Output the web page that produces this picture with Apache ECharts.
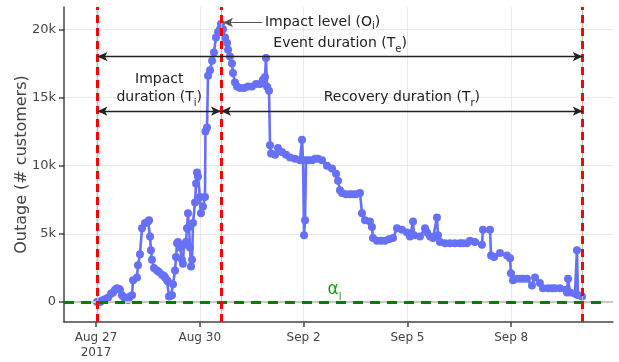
<!DOCTYPE html>
<html>
<head>
<meta charset="utf-8">
<script src="https://cdn.jsdelivr.net/npm/echarts@6/dist/echarts.min.js"></script>
<style>
  html, body { margin: 0; padding: 0; background: #fff; }
  #chart { width: 619px; height: 362px; }
</style>
</head>
<body>
<div id="chart"></div>
<script>
// Hurricane outage record: hours after 2017-08-27 00:00 and customers without power
const hoursSinceStart = [
  0.7, 2.8, 4.2, 6.2, 8.3, 10.4, 11.8, 13.2, 14.6, 16.0, 16.6, 18.0, 19.4, 20.8, 22.2, 23.6,
  25.0, 25.7, 28.4, 29.1, 30.5, 31.9, 34.0, 36.1, 36.8, 37.5, 38.1, 38.8, 40.2, 42.3, 43.7,
  45.8, 47.2, 47.9, 49.2, 49.9, 50.6, 52.0, 52.7, 53.4, 54.8, 55.5, 56.2, 56.9, 58.3, 59.6,
  60.3, 61.0, 62.4, 63.1, 63.8, 64.5, 65.2, 65.9, 66.6, 67.3, 68.7, 69.4, 70.1, 70.7, 72.1,
  72.8, 74.2, 75.6, 75.9, 77.0, 77.7, 79.1, 80.5, 81.8, 83.2, 84.6, 86.0, 86.7, 88.1, 89.5,
  90.9, 91.6, 92.9, 94.3, 95.0, 96.4, 97.8, 99.9, 102.7, 105.4, 108.2, 111.0, 113.8, 115.8,
  117.2, 117.9, 118.6, 120.0, 120.7, 121.4, 124.2, 126.2, 129.0, 131.8, 134.6, 138.0, 141.5,
  142.9, 143.6, 144.3, 145.0, 145.7, 147.7, 149.8, 151.9, 154.0, 156.8, 160.2, 163.7, 166.5,
  167.9, 169.2, 170.6, 173.4, 176.2, 178.2, 180.3, 183.1, 184.5, 186.6, 190.0, 191.4, 192.1,
  194.9, 197.7, 200.5, 203.2, 206.0, 208.8, 212.2, 215.7, 217.8, 219.9, 220.6, 224.7, 228.2,
  229.6, 231.7, 233.7, 236.5, 237.2, 238.6, 242.1, 245.5, 249.0, 252.5, 254.5, 257.3, 259.4,
  262.9, 267.7, 268.4, 273.3, 274.0, 276.1, 280.2, 285.1, 287.2, 287.8, 289.2, 291.3, 294.1,
  296.2, 298.9, 302.4, 304.5, 307.9, 310.0, 313.5, 316.3, 318.4, 321.8, 326.0, 326.7, 327.4,
  328.8, 332.2, 333.6, 334.3, 337.1
];
const outage = [
  0, 0, 100, 200, 300, 600, 700, 900, 1000, 950, 900, 500, 350, 250, 150, 400,
  500, 1600, 1800, 2700, 3500, 5400, 5800, 5900, 6000, 4800, 3800, 3100, 2500, 2300, 2200,
  2000, 1900, 1800, 1600, 1500, 400, 450, 500, 1300, 2300, 3300, 4300, 4400, 4000, 3100,
  2800, 4200, 4400, 5400, 6500, 5500, 4000, 2600, 3100, 5800, 7300, 8700, 9500, 9200, 7700,
  6500, 7000, 7700, 12500, 12800, 16600, 17000, 17700, 18300, 19400, 19800, 20000, 20400, 20000, 19400,
  19000, 18500, 18000, 17500, 16800, 16100, 15800, 15700, 15700, 15800, 15800, 16000, 16000, 16300,
  16500, 17900, 15800, 15500, 11500, 10900, 10800, 11300, 11000, 10800, 10600, 10500, 10400,
  11900, 10400, 4900, 6000, 10400, 10400, 10400, 10500, 10500, 10400, 10000, 9800, 9400,
  8900, 8200, 8000, 7900, 7900, 7900, 7900, 8000, 6500, 6000, 5900, 5500, 4700,
  4500, 4500, 4500, 4600, 4700, 5400, 5300, 5100, 4800, 5900, 4900, 4800, 5400,
  5100, 4800, 4700, 6200, 4900, 4400, 4300, 4300, 4300, 4300, 4300, 4300, 4500,
  4400, 4200, 5300, 5300, 3400, 3300, 3600, 3400, 3200, 2100, 1600, 1700, 1700,
  1700, 1700, 1200, 1800, 1400, 1000, 1000, 1000, 1000, 1000, 900, 700, 1700,
  700, 600, 3800, 500, 400
];

// Event milestones (hours after start)
const impactStartH = 1.0;
const peakH = 86.7;
const recoveryEndH = 337.6;
const lowThreshold = 0;

// Axis ticks
const tickDays = ['2017-08-27', '2017-08-30', '2017-09-02', '2017-09-05', '2017-09-08'];
const yTicks = [0, 5000, 10000, 15000, 20000];
const monthNames = ['Jan', 'Feb', 'Mar', 'Apr', 'May', 'Jun', 'Jul', 'Aug', 'Sep', 'Oct', 'Nov', 'Dec'];

const HOUR = 3600 * 1000;
const t0 = new Date(2017, 7, 27).getTime();
const at = h => t0 + h * HOUR;
const parseDay = s => { const p = s.split('-').map(Number); return new Date(p[0], p[1] - 1, p[2]).getTime(); };
const xTicks = tickDays.map(parseDay);

const seriesData = hoursSinceStart.map((h, i) => [at(h), outage[i]]);
const peakValue = Math.max.apply(null, outage);

const xMin = at(-22.2), xMax = at(358.6);
const yMin = -1470, yMax = 21640;
const font = 'DejaVu Sans, Verdana, sans-serif';
const sub = { fontSize: 10, fontFamily: font, color: '#222', verticalAlign: 'bottom', lineHeight: 10, padding: [0, 0, -2, 0] };

// Double-headed horizontal arrow with a caption above its middle
const arrowLine = (fromH, toH, yVal, text, dist) => [
  {
    coord: [at(fromH), yVal],
    label: {
      show: true, position: 'middle', distance: dist, formatter: text,
      fontSize: 14, fontFamily: font, color: '#222', lineHeight: 18,
      rich: { sub: sub }
    }
  },
  { coord: [at(toH), yVal] }
];

const chart = echarts.init(document.getElementById('chart'), null, { renderer: 'canvas' });
chart.setOption({
  animation: false,
  backgroundColor: '#fff',
  grid: { left: 64, right: 6, top: 7, bottom: 40, containLabel: false, outerBoundsMode: 'none' },
  xAxis: {
    type: 'value', min: xMin, max: xMax, scale: true,
    axisLine: { show: true, onZero: false, lineStyle: { color: '#444', width: 1.5 } },
    axisTick: { show: true, length: 5, lineStyle: { color: '#444', width: 1.5 }, customValues: xTicks },
    axisLabel: {
      customValues: xTicks, margin: 8,
      fontSize: 12, fontFamily: font, color: '#444', lineHeight: 15,
      formatter: v => {
        const d = new Date(v);
        const s = monthNames[d.getMonth()] + ' ' + d.getDate();
        return v === xTicks[0] ? s + '\n' + d.getFullYear() : s;
      }
    },
    splitLine: { show: true, lineStyle: { color: '#e8e8e8', width: 1 } }
  },
  yAxis: {
    type: 'value', min: yMin, max: yMax,
    name: 'Outage (# customers)', nameLocation: 'middle', nameGap: 34, nameMoveOverlap: false,
    nameTextStyle: { fontSize: 16, fontFamily: font, color: '#444' },
    axisLine: { show: true, lineStyle: { color: '#444', width: 1.5 } },
    axisTick: { show: true, length: 5, lineStyle: { color: '#444', width: 1.5 }, customValues: yTicks },
    axisLabel: {
      customValues: yTicks, margin: 8, fontSize: 13, fontFamily: font, color: '#444',
      formatter: v => v === 0 ? '0' : (v / 1000) + 'k'
    },
    splitLine: { show: true, lineStyle: { color: '#e8e8e8', width: 1 } }
  },
  series: [
    {
      // zero line and thin guides under the milestone lines
      type: 'line', data: [], z: 1, silent: true,
      markLine: {
        silent: true, symbol: 'none', label: { show: false },
        lineStyle: { color: '#bbb', width: 1, type: 'solid' },
        data: [
          { yAxis: 0, lineStyle: { color: '#c8c8c8', width: 2 } },
          { xAxis: at(impactStartH) },
          { xAxis: at(peakH) },
          { xAxis: at(recoveryEndH) }
        ]
      }
    },
    {
      name: 'Outage', type: 'line', data: seriesData, z: 3,
      showSymbol: true, symbol: 'circle', symbolSize: 8,
      itemStyle: { color: '#6670f8' },
      lineStyle: { color: '#6670f8', width: 2.6 }
    },
    {
      // threshold level
      type: 'line', data: [], z: 4, silent: true,
      markLine: {
        silent: true, symbol: 'none',
        lineStyle: { color: '#008000', width: 3, type: [10, 7] },
        data: [[
          { coord: [xMin, lowThreshold] },
          { coord: [at(353), lowThreshold] }
        ]],
        label: {
          show: true, position: 'middle', distance: 4,
          formatter: 'α{s|l}', fontSize: 17, fontFamily: font, color: '#1a9a1a',
          rich: { s: { fontSize: 10, color: '#1a9a1a', verticalAlign: 'bottom', padding: [0, 0, -4, 0] } }
        }
      }
    },
    {
      // start of impact, peak, end of recovery
      type: 'line', data: [], z: 5, silent: true,
      markLine: {
        silent: true, symbol: 'none', label: { show: false },
        lineStyle: { color: '#ff0000', width: 3, type: [8, 5] },
        data: [
          { xAxis: at(impactStartH) },
          { xAxis: at(peakH) },
          { xAxis: at(recoveryEndH) }
        ]
      }
    },
    {
      // duration arrows and peak callout
      type: 'line', data: [], z: 6, silent: true,
      markLine: {
        silent: true, symbol: ['arrow', 'arrow'], symbolSize: [7, 10],
        lineStyle: { color: '#222', width: 1.4, type: 'solid' },
        data: [
          arrowLine(impactStartH, recoveryEndH, 18000, 'Event duration (T{sub|e})', 4),
          arrowLine(impactStartH, peakH, 14000, 'Impact\nduration (T{sub|i})', 5),
          arrowLine(peakH, recoveryEndH, 14000, 'Recovery duration (T{sub|r})', 5),
          [
            {
              coord: [at(peakH + 1.4), peakValue + 100],
              symbol: 'arrow',
              lineStyle: { color: '#555', width: 1 },
              label: {
                show: true, position: 'end', distance: 3,
                formatter: 'Impact level (O{sub|i})',
                fontSize: 14, fontFamily: font, color: '#222', rich: { sub: sub }
              }
            },
            { coord: [at(115.1), peakValue + 100], symbol: 'none' }
          ]
        ]
      }
    }
  ]
});
</script>
</body>
</html>
